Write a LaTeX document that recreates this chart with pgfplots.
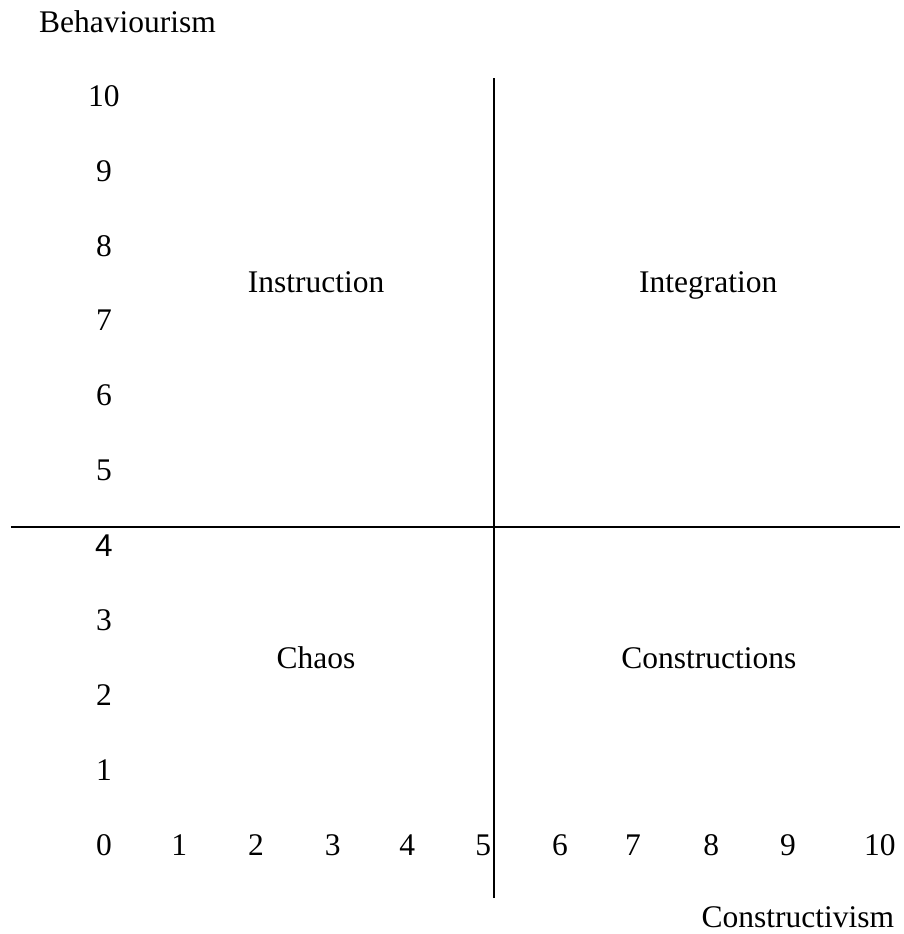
\documentclass[border=0pt]{standalone}
\usepackage{fontspec}
\setmainfont{Liberation Serif}
\setsansfont{Liberation Sans}
\usepackage{pgfplots}
\pgfplotsset{compat=1.18}

\begin{document}
\begin{tikzpicture}
    \begin{axis}[
        scale only axis,
        width=361.2pt,
        height=373.6pt,
        xmin=-1.368, xmax=10.513,
        ymin=-1.188, ymax=11.28,
        hide axis,
        clip=false,
        every node near coord/.append style={text=black, font=\fontsize{12.6}{15}\selectfont, inner sep=0pt},
    ]
        \path (rel axis cs:0,0) rectangle (rel axis cs:1,1);
        % the two dividing lines
        \addplot[black, line width=0.8pt] coordinates {(-1.224,4.25) (10.474,4.25)};
        \addplot[black, line width=0.8pt] coordinates {(5.13,-0.71) (5.13,10.24)};
        % tick numbers along the left
        \addplot[draw=none, nodes near coords, point meta=explicit symbolic,
                 nodes near coords align=center] coordinates {
            (0,10)[10] (0,9)[9] (0,8)[8] (0,7)[7] (0,6)[6] (0,5)[5]
            (0,3)[3] (0,2)[2] (0,1)[1]
        };
        \addplot[draw=none, nodes near coords, point meta=explicit symbolic,
                 nodes near coords align=center,
                 every node near coord/.append style={font=\sffamily\fontsize{12.6}{15}\selectfont}] coordinates {
            (0,4)[4]
        };
        % tick numbers along the bottom
        \addplot[draw=none, nodes near coords, point meta=explicit symbolic,
                 nodes near coords align=center] coordinates {
            (0,0)[0] (0.99,0)[1] (2,0)[2] (3.01,0)[3] (3.99,0)[4] (4.99,0)[5]
            (6,0)[6] (6.96,0)[7] (7.99,0)[8] (9,0)[9] (10.21,0)[10]
        };
        % axis names and quadrant names
        \addplot[draw=none, nodes near coords, point meta=explicit symbolic,
                 every node near coord/.append style={anchor=base}] coordinates {
            (0.31,10.84)[Behaviourism]
            (9.13,-1.095)[Constructivism]
            (2.79,7.37)[Instruction]
            (7.95,7.37)[Integration]
            (2.79,2.36)[Chaos]
            (7.96,2.36)[Constructions]
        };
    \end{axis}
\end{tikzpicture}
\end{document}
